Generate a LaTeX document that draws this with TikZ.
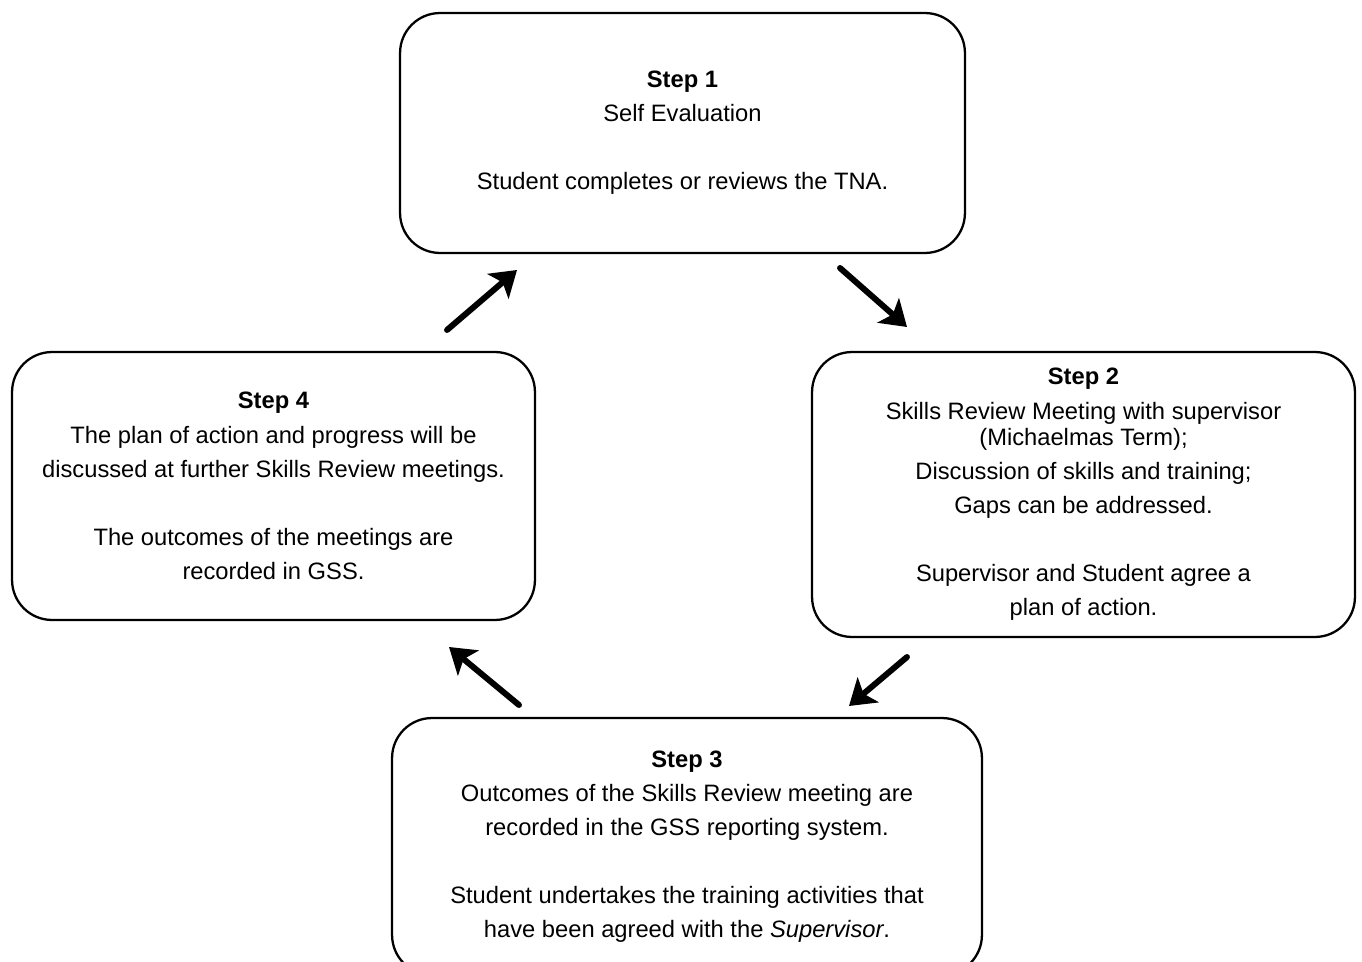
\documentclass[tikz,border=0pt]{standalone}
\usepackage{fontspec}
\setmainfont{Liberation Sans}
\usetikzlibrary{arrows.meta}
\usetikzlibrary{positioning}
\tikzset{stepbox/.style={draw, line width=1.3pt, rounded corners=0.8cm, align=center, inner sep=0pt, font=\fontsize{13.5}{19.4}\selectfont}}
\tikzset{cyclearrow/.style={line width=3.4pt, line cap=round, -{Stealth[length=5mm, width=6.5mm, inset=1.2mm]}}}

\begin{document}
\begin{tikzpicture}[x=0.02cm, y=-0.02cm]
        \useasboundingbox (0,0) rectangle (1362,962);

        % Steps
        \node[stepbox, minimum width=11.3cm, minimum height=4.8cm] (step1) at (682.5,133) {\textbf{Step 1}\\Self Evaluation\\[19.4pt]Student completes or reviews the TNA.};
        \node[stepbox, minimum width=10.86cm, minimum height=5.7cm] (step2) at (1083.5,494.5) {\textbf{Step 2}\\Skills Review Meeting with supervisor\\[-4.5pt](Michaelmas Term);\\Discussion of skills and training;\\Gaps can be addressed.\\[19.4pt]Supervisor and Student agree a\\plan of action.};
        \node[stepbox, minimum width=11.8cm, minimum height=5.14cm] (step3) at (687,846.5) {\textbf{Step 3}\\Outcomes of the Skills Review meeting are\\recorded in the GSS reporting system.\\[19.4pt]Student undertakes the training activities that\\have been agreed with the \textit{Supervisor}.};
        \node[stepbox, minimum width=10.46cm, minimum height=5.36cm] (step4) at (273.5,486) {\textbf{Step 4}\\The plan of action and progress will be\\discussed at further Skills Review meetings.\\[19.4pt]The outcomes of the meetings are\\recorded in GSS.};

        % Arrow ends
        \coordinate (from1) at (840,268);
        \coordinate (to2) at (907,327);
        \coordinate (from2) at (907,657);
        \coordinate (to3) at (849,706);
        \coordinate (from3) at (519,705);
        \coordinate (to4) at (449,647);
        \coordinate (from4) at (447,330);
        \coordinate (to1) at (517,270);

        % Cycle
        \draw[cyclearrow] (from1) -- (to2);
        \draw[cyclearrow] (from2) -- (to3);
        \draw[cyclearrow] (from3) -- (to4);
        \draw[cyclearrow] (from4) -- (to1);
\end{tikzpicture}
\end{document}
